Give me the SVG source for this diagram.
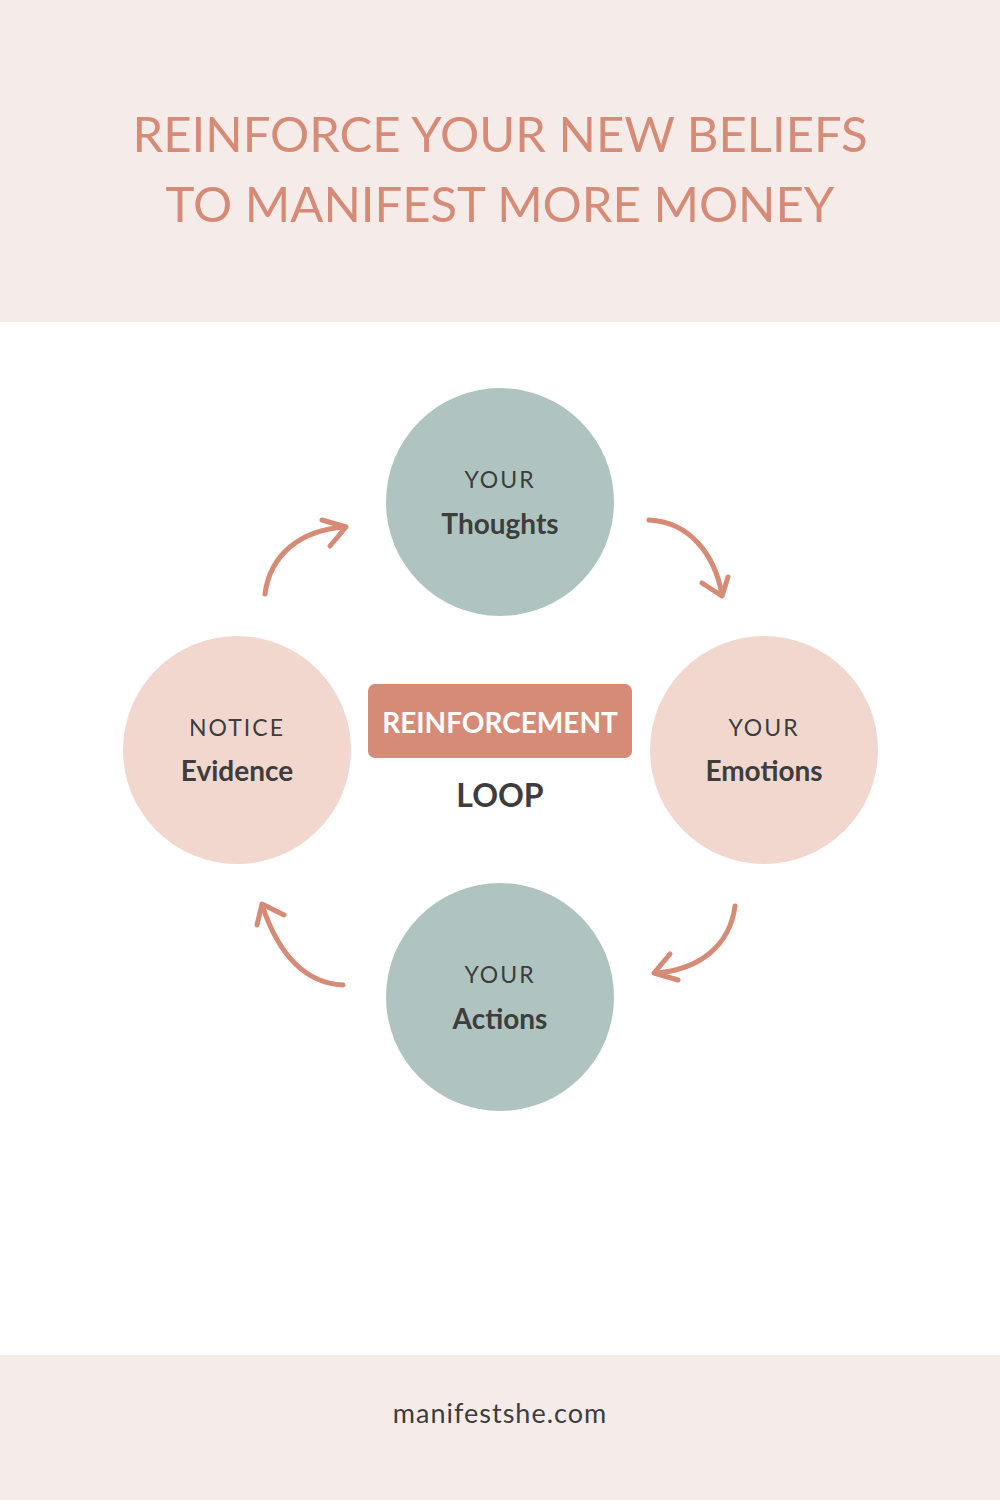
<svg xmlns="http://www.w3.org/2000/svg" width="1000" height="1500" viewBox="0 0 1000 1500">
<style>
.arr{fill:none;stroke:#d58b76;stroke-width:5;stroke-linecap:round;stroke-linejoin:round}
.sm{font-family:Lato,'Noto Sans',sans-serif;font-size:23px;fill:#3d3d3d;letter-spacing:2px;text-anchor:middle}
.bg{font-family:Lato,'Noto Sans',sans-serif;font-size:28px;font-weight:bold;fill:#3d3d3d;text-anchor:middle}
.t{font-family:Lato,'Noto Sans',sans-serif;font-size:49px;fill:#d58b76;text-anchor:middle}
</style>
<rect width="1000" height="1500" fill="#ffffff"/>
<rect width="1000" height="322" fill="#f5ece9"/>
<rect y="1355" width="1000" height="145" fill="#f5ece9"/>
<text class="t" x="500" y="152">REINFORCE YOUR NEW BELIEFS</text>
<text class="t" x="500" y="222">TO MANIFEST MORE MONEY</text>
<g id="thoughts"><circle cx="500" cy="502" r="114" fill="#afc4c1"/><text class="sm" x="500" y="488">YOUR</text><text class="bg" x="500" y="534">Thoughts</text></g>
<g id="emotions"><circle cx="764" cy="750" r="114" fill="#f2d7cf"/><text class="sm" x="764" y="736">YOUR</text><text class="bg" x="764" y="781">Emotions</text></g>
<g id="actions"><circle cx="500" cy="997" r="114" fill="#afc4c1"/><text class="sm" x="500" y="983">YOUR</text><text class="bg" x="500" y="1029">Actions</text></g>
<g id="evidence"><circle cx="237" cy="750" r="114" fill="#f2d7cf"/><text class="sm" x="237" y="736">NOTICE</text><text class="bg" x="237" y="781">Evidence</text></g>
<g id="center"><rect x="368" y="684" width="264" height="74" rx="7" fill="#d58b76"/><text class="bg" x="500" y="733" style="fill:#fff">REINFORCEMENT</text><text class="bg" x="500" y="807" style="font-size:32px">LOOP</text></g>
<g id="connectors">
<g id="a1"><path class="arr" d="M265,594 C270,555 300,530 345,527"/><polyline class="arr" points="322,520 346,527 330,546"/></g>
<g id="a2"><path class="arr" d="M649,520 C690,522 715,555 722,595"/><polyline class="arr" points="702,583 722,596 728,577"/></g>
<g id="a3" transform="rotate(180 500 750)"><path class="arr" d="M265,594 C270,555 300,530 345,527"/><polyline class="arr" points="322,520 346,527 330,546"/></g>
<g id="a4" transform="rotate(180 500 750) translate(8,-5)"><path class="arr" d="M649,520 C690,522 715,555 730,600"/><polyline class="arr" points="708,590 730,601 735,580"/></g>
</g>
<text x="500" y="1423" style="font-family:Lato,'Noto Sans',sans-serif;font-size:27px;fill:#3d3d3d;text-anchor:middle;letter-spacing:1px">manifestshe.com</text>
</svg>
